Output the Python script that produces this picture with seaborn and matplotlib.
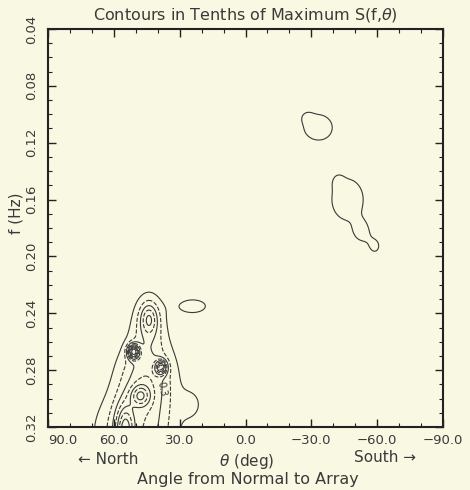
import numpy as np
import matplotlib
matplotlib.use('Agg')
import matplotlib.pyplot as plt
import matplotlib.transforms as mtransforms
import seaborn as sns
from matplotlib.ticker import MultipleLocator

# ---- data: spectral peaks (theta deg, f Hz, relative amplitude, widths)
peak_theta = [-33.0, -28.0, -46.5, -42.0, -53.0, -59.0, 24.0,
              44.0, 45.0, 50.0, 24.5,
              44.0, 51.0, 38.5, 48.0, 55.0]
peak_freq = [0.109, 0.102, 0.160, 0.147, 0.183, 0.193, 0.235,
             0.245, 0.285, 0.325, 0.304,
             0.244, 0.267, 0.278, 0.298, 0.322]
peak_amp = [0.14, 0.05, 0.14, 0.04, 0.10, 0.11, 0.15,
            0.25, 0.36, 0.35, 0.11,
            0.25, 0.80, 0.60, 0.35, 0.45]
peak_wtheta = [8.0, 2.0, 9.0, 2.0, 3.0, 3.0, 6.5,
               5.0, 9.0, 12.0, 4.0,
               2.5, 1.8, 1.8, 3.0, 2.8]
peak_wfreq = [0.011, 0.003, 0.018, 0.004, 0.006, 0.006, 0.005,
              0.014, 0.020, 0.020, 0.008,
              0.007, 0.0035, 0.0035, 0.005, 0.012]

contour_levels = [0.1, 0.2, 0.3, 0.4, 0.5, 0.6, 0.7, 0.8, 0.9]
contour_styles = ['solid', 'dashed', 'solid', 'dashed', 'solid', 'dashed', 'solid', 'dashed', 'solid']

x_ticks = [90, 60, 30, 0, -30, -60, -90]
x_tick_labels = ['90.0', '60.0', '30.0', '0.0', '\u221230.0', '\u221260.0', '\u221290.0']
y_ticks = [0.04, 0.08, 0.12, 0.16, 0.20, 0.24, 0.28, 0.32]
y_tick_labels = ['0.04', '0.08', '0.12', '0.16', '0.20', '0.24', '0.28', '0.32']

sns.set_theme(style='ticks')
plt.rcParams['font.family'] = ['DejaVu Sans']

bg = '#f9f8e3'
ink = '#3a3a3a'
W, H = 470, 490
fig = plt.figure(figsize=(W / 100, H / 100), dpi=100, facecolor=bg)
ax = fig.add_axes([48 / W, 1 - 427 / H, (443 - 48) / W, (427 - 29) / H])
ax.set_facecolor(bg)

th = np.linspace(-90, 90, 721)
fr = np.linspace(0.03, 0.36, 661)
T, F = np.meshgrid(th, fr)
Z = np.zeros_like(T)
for t0, f0, a, wt, wf in zip(peak_theta, peak_freq, peak_amp, peak_wtheta, peak_wfreq):
    Z += a * np.exp(-0.5 * ((T - t0) / wt) ** 2 - 0.5 * ((F - f0) / wf) ** 2)
Z = Z / Z.max()

ax.contour(T, F, Z, levels=contour_levels, colors=ink, linewidths=0.8,
           linestyles=contour_styles)
ax.text(38, 0.293, '0.3', fontsize=7, color=ink, rotation=-80, ha='center', va='center')

ax.set_xlim(90, -90)
ax.set_ylim(0.32, 0.04)
ax.set_xticks(x_ticks)
ax.set_xticklabels(x_tick_labels, fontsize=9.5, color=ink)
ax.get_xticklabels()[0].set_horizontalalignment('left')
ax.set_yticks(y_ticks)
ax.set_yticklabels(y_tick_labels, fontsize=9.5, color=ink, rotation=90, va='center')
shift = mtransforms.ScaledTranslation(0, 9 / 100, fig.dpi_scale_trans)
for lab in ax.get_yticklabels():
    lab.set_transform(lab.get_transform() + shift)
ax.xaxis.set_minor_locator(MultipleLocator(10))
ax.yaxis.set_minor_locator(MultipleLocator(0.01))
ax.tick_params(which='both', direction='in', top=True, right=True, color='#222')
ax.tick_params(which='major', length=6, width=1.0)
ax.tick_params(which='minor', length=3, width=0.8)
ax.tick_params(axis='x', pad=5)
ax.tick_params(axis='y', pad=7)
for s in ax.spines.values():
    s.set_color('#222')
    s.set_linewidth(1.5)

def px(x, y):
    return x / W, 1 - y / H

fig.text(*px(245, 15), 'Contours in Tenths of Maximum S(f,$\\theta$)', fontsize=11.5,
         color=ink, ha='center', va='center')
fig.text(*px(16, 213), 'f (Hz)', fontsize=11, color=ink, rotation=90, ha='center', va='center')
fig.text(*px(108, 459), '\u2190 North', fontsize=11, color=ink, ha='center', va='center')
fig.text(*px(247, 461), '$\\theta$ (deg)', fontsize=11, color=ink, ha='center', va='center')
fig.text(*px(385, 457), 'South \u2192', fontsize=11, color=ink, ha='center', va='center')
fig.text(*px(248, 479), 'Angle from Normal to Array', fontsize=11.5, color=ink,
         ha='center', va='center')

fig.savefig('out.png', dpi=100, facecolor=bg)
